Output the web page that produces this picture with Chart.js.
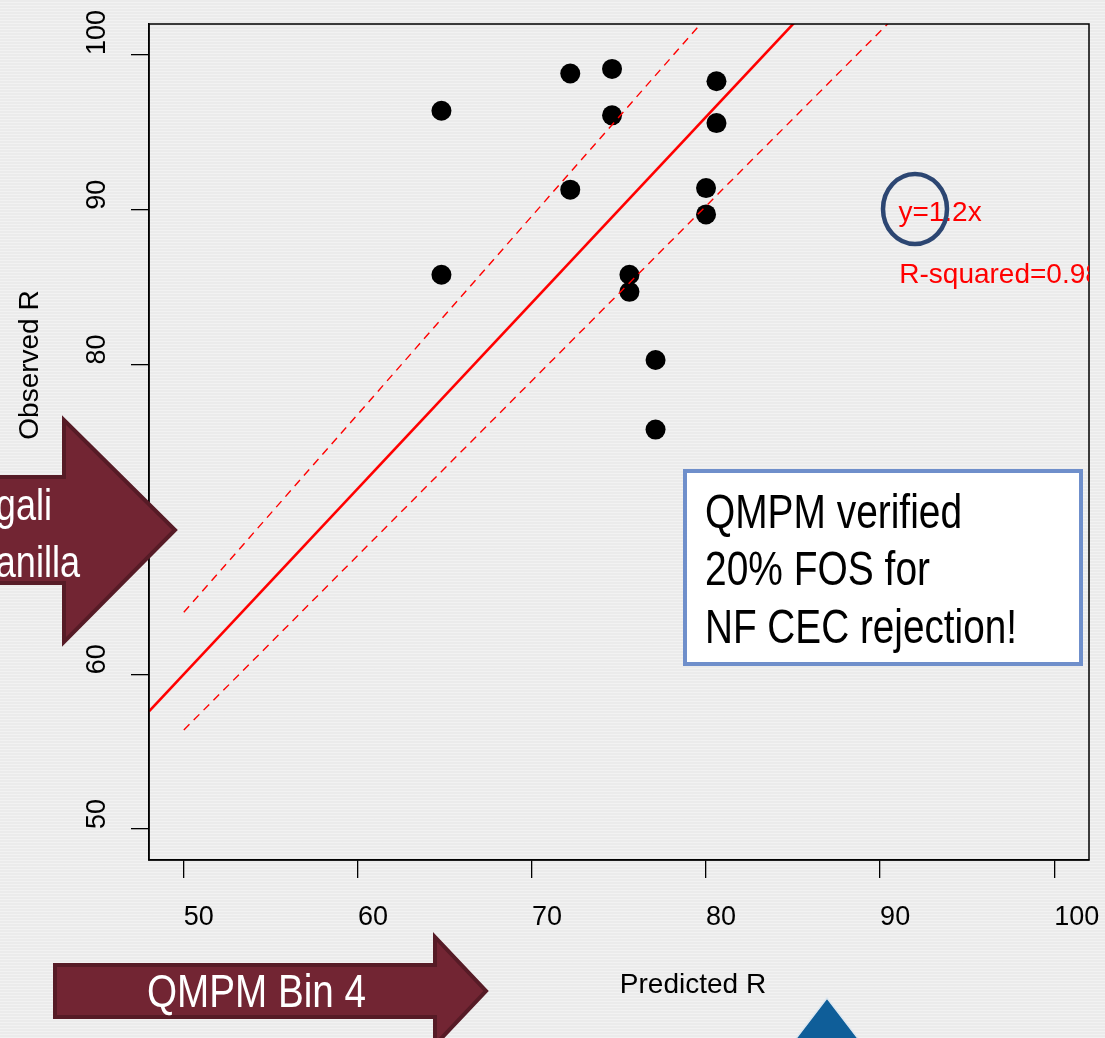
<!DOCTYPE html>
<html>
<head>
<meta charset="utf-8">
<script src="https://cdn.jsdelivr.net/npm/chart.js@4/dist/chart.umd.min.js"></script>
<style>
  html, body { margin: 0; padding: 0; }
  body { width: 1105px; height: 1038px; overflow: hidden; background: #ececec; }
  #wrap {
    position: relative; width: 1105px; height: 1038px;
    background-color: #ebebeb;
    background-image: repeating-linear-gradient(0deg, rgba(255,255,255,0.35) 0px, rgba(255,255,255,0.35) 1px, rgba(0,0,0,0) 1px, rgba(0,0,0,0) 3px);
  }
  #chart { position: absolute; left: 0; top: 0; }
  #overlay { position: absolute; left: 0; top: 0; pointer-events: none; }
  .narrow { font-family: "Liberation Sans", Arial, sans-serif; }
</style>
</head>
<body>
<div id="wrap">
  <canvas id="chart" width="1105" height="1038"></canvas>
  <svg id="overlay" width="1105" height="1038" viewBox="0 0 1105 1038">
    <!-- left call-out arrow -->
    <polygon points="-10,477 64,477 64,420 175,530 64,642 64,583 -10,583"
             fill="#722533" stroke="#561b26" stroke-width="4" stroke-linejoin="miter"/>
    <text class="narrow" transform="translate(52,520) scale(0.82,1)" text-anchor="end" font-size="44" fill="#ffffff">gali</text>
    <text class="narrow" transform="translate(80,577) scale(0.82,1)" text-anchor="end" font-size="44" fill="#ffffff">anilla</text>

    <!-- bottom call-out arrow -->
    <polygon points="55,965 435,965 435,937 486,991 435,1045 435,1017 55,1017"
             fill="#722533" stroke="#561b26" stroke-width="4" stroke-linejoin="miter"/>
    <text class="narrow" x="147" y="1007" font-size="47" fill="#ffffff" textLength="219" lengthAdjust="spacingAndGlyphs">QMPM Bin 4</text>

    <!-- note box -->
    <rect x="685" y="471" width="396" height="193" fill="#ffffff" stroke="#6f8fcb" stroke-width="4"/>
    <text class="narrow" x="705" y="528" font-size="48" fill="#000000" textLength="257" lengthAdjust="spacingAndGlyphs">QMPM verified</text>
    <text class="narrow" x="705" y="585" font-size="48" fill="#000000" textLength="225" lengthAdjust="spacingAndGlyphs">20% FOS for</text>
    <text class="narrow" x="705" y="643" font-size="48" fill="#000000" textLength="312" lengthAdjust="spacingAndGlyphs">NF CEC rejection!</text>

    <!-- highlight ring on the slope -->
    <ellipse cx="915" cy="209" rx="32" ry="35" fill="none" stroke="#2c4672" stroke-width="4.5"/>

    <!-- navigation triangle -->
    <polygon points="827,998 778,1062 876,1062" fill="#0f5e99" stroke="#dde7f0" stroke-width="1.5"/>
  </svg>
</div>
<script>
// Predicted vs observed rejection (%)
const predicted = [64.8, 64.8, 72.2, 72.2, 74.6, 74.6, 75.6, 75.6, 77.1, 77.1, 80.0, 80.0, 80.6, 80.6];
const observed  = [96.4, 85.8, 98.8, 91.3, 99.1, 96.1, 85.8, 84.7, 80.3, 75.8, 91.4, 89.7, 98.3, 95.6];

// Fitted line y = 1.2x and its dashed band (end points)
const fitX   = [48, 102];
const fitY   = [57.6, 122.4];
const upperX = [50, 100];
const upperY = [64.0, 128.0];
const lowerX = [50, 100];
const lowerY = [56.4, 112.8];

// Axis ticks
const xTicks = [50, 60, 70, 80, 90, 100];
const yTicks = [50, 60, 70, 80, 90, 100];

const fitLabel = 'y=1.2x';
const r2Label = 'R-squared=0.98';
const xTitle = 'Predicted R';
const yTitle = 'Observed R';

const toXY = (xs, ys) => xs.map((x, i) => ({ x: x, y: ys[i] }));

const AXIS_FONT = { family: 'Liberation Sans, Arial, sans-serif', size: 27 };

// full box around the plotting region
const framePlugin = {
  id: 'frame',
  afterDatasetsDraw(chart) {
    const a = chart.chartArea;
    const c = chart.ctx;
    c.save();
    c.strokeStyle = '#000';
    c.lineWidth = 1.5;
    c.strokeRect(a.left, a.top, a.right - a.left, a.bottom - a.top);
    c.restore();
  }
};

// fit annotation inside the plot, and the two axis titles
const textPlugin = {
  id: 'texts',
  afterDraw(chart) {
    const c = chart.ctx;
    const a = chart.chartArea;
    const xs = chart.scales.x, ys = chart.scales.y;
    c.save();
    c.beginPath();
    c.rect(a.left, a.top, a.right - a.left, a.bottom - a.top);
    c.clip();
    c.fillStyle = '#ff0000';
    c.font = '28px Liberation Sans, Arial, sans-serif';
    c.textAlign = 'left';
    c.textBaseline = 'alphabetic';
    c.fillText(fitLabel, xs.getPixelForValue(91.05), ys.getPixelForValue(89.3));
    c.fillText(r2Label, xs.getPixelForValue(91.1), ys.getPixelForValue(85.24));
    c.restore();

    c.save();
    c.fillStyle = '#000';
    c.font = '28px Liberation Sans, Arial, sans-serif';
    c.textAlign = 'center';
    c.textBaseline = 'middle';
    c.fillText(xTitle, 693, 985);
    c.translate(30, 365);
    c.rotate(-Math.PI / 2);
    c.fillText(yTitle, 0, 0);
    c.restore();
  }
};

new Chart(document.getElementById('chart'), {
  type: 'scatter',
  data: {
    datasets: [
      {
        label: 'Observed',
        data: toXY(predicted, observed),
        pointRadius: 10,
        pointHoverRadius: 10,
        backgroundColor: '#000',
        borderWidth: 0,
        order: 2
      },
      {
        label: 'Fit',
        data: toXY(fitX, fitY),
        showLine: true,
        borderColor: '#ff0000',
        borderWidth: 2.6,
        pointRadius: 0,
        order: 1
      },
      {
        label: 'Upper',
        data: toXY(upperX, upperY),
        showLine: true,
        borderColor: '#ff0000',
        borderWidth: 1.4,
        borderDash: [8, 6],
        pointRadius: 0,
        order: 1
      },
      {
        label: 'Lower',
        data: toXY(lowerX, lowerY),
        showLine: true,
        borderColor: '#ff0000',
        borderWidth: 1.4,
        borderDash: [8, 6],
        pointRadius: 0,
        order: 1
      }
    ]
  },
  options: {
    responsive: false,
    animation: false,
    events: [],
    layout: { padding: { top: 24, right: 16, left: 98, bottom: 0 } },
    plugins: { legend: { display: false }, tooltip: { enabled: false } },
    scales: {
      x: {
        type: 'linear',
        min: 48,
        max: 102,
        afterBuildTicks: s => { s.ticks = xTicks.map(v => ({ value: v })); },
        afterFit: s => { s.height = 178; s.paddingLeft = 0; s.paddingRight = 0; },
        grid: { display: true, drawOnChartArea: false, drawTicks: true, tickLength: 18, color: '#000', lineWidth: 1.3 },
        border: { display: true, color: '#000', width: 1.5 },
        ticks: { color: '#000', font: AXIS_FONT, padding: 23, align: 'start', minRotation: 0, maxRotation: 0, autoSkip: false }
      },
      y: {
        type: 'linear',
        min: 48,
        max: 102,
        afterBuildTicks: s => { s.ticks = yTicks.map(v => ({ value: v })); },
        afterFit: s => { s.width = 51; s.paddingTop = 0; s.paddingBottom = 0; },
        grid: { display: true, drawOnChartArea: false, drawTicks: true, tickLength: 18, color: '#000', lineWidth: 1.3 },
        border: { display: true, color: '#000', width: 1.5 },
        ticks: { color: '#000', font: AXIS_FONT, mirror: true, padding: -51, crossAlign: 'near', minRotation: 90, maxRotation: 90, autoSkip: false }
      }
    }
  },
  plugins: [framePlugin, textPlugin]
});
</script>
</body>
</html>
